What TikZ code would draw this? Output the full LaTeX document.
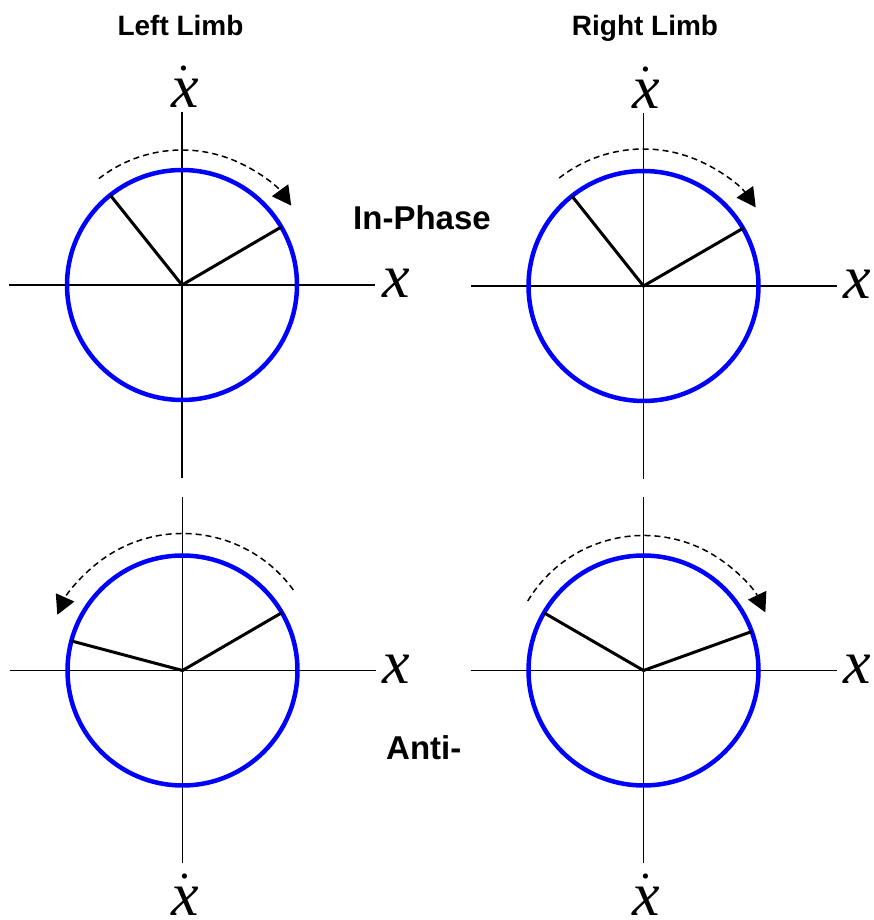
\documentclass[tikz,border=0pt]{standalone}
\usepackage{fontspec}
\setmainfont{Liberation Sans}
\newfontfamily\serifit{Liberation Serif}
\usetikzlibrary{arrows.meta}
\newcommand{\xvar}{\serifit\itshape\fontsize{62}{62}\selectfont}
\newcommand{\titlefont}{\fontsize{28}{28}\selectfont\bfseries}
\newcommand{\phasefont}{\fontsize{33}{33}\selectfont\bfseries}
\newcommand{\xdot}{\ooalign{x\cr\hidewidth\raisebox{0.6em}{\fontsize{44}{44}\selectfont.}\hidewidth\cr}}

\begin{document}
\begin{tikzpicture}[x=1pt,y=1pt,
    axisline/.style={line width=1.5pt},
    orbit/.style={draw=blue,line width=4.5pt},
    spoke/.style={line width=3pt},
    flowarc/.style={line width=1.5pt,dash pattern=on 6pt off 4pt,-{Triangle[length=19pt,width=20pt]}},
    varlbl/.style={inner sep=0pt,font=\xvar},
    titlelbl/.style={inner sep=0pt,font=\titlefont},
    phaselbl/.style={inner sep=0pt,font=\phasefont}]
  \useasboundingbox (0,0) rectangle (873,920);
  % one phase portrait per panel: centre, spokes, flow arc, height of the x-dot label
  \foreach \cx/\cy/\sa/\sb/\fa/\fb/\fr/\dy/\p in {182/635/128.6/30.3/128/36/135/177/tl,643.5/634/128.5/30.1/128/35/137/177/tr,182.5/249.5/165.1/30.2/36/156/137/-245/bl,643.5/249.5/149.9/19.8/149/25.5/135/-245/br}{
    \begin{scope}[shift={(\cx,\cy)}]
      \draw[axisline] (-173,0) -- (193,0);
      \draw[axisline] (0,-193) -- (0,173);
      \draw[orbit] (0,0) circle (115);
      \draw[spoke] (\sa:115) -- (0,0) -- (\sb:115);
      \draw[flowarc] (\fa:\fr) arc (\fa:\fb:\fr);
      \node[varlbl,anchor=base west] (\p-x) at (200,-13) {x};
      \node[varlbl,anchor=base] (\p-xd) at (3,\dy) {\xdot};
    \end{scope}
  }
  \node[titlelbl,anchor=base] (left-title) at (180.5,884.5) {Left Limb};
  \node[titlelbl,anchor=base] (right-title) at (645,884.5) {Right Limb};
  \node[phaselbl,anchor=base west] (in-phase) at (353,690) {In-Phase};
  \node[phaselbl,anchor=base west] (anti-phase) at (386,160) {Anti-};
\end{tikzpicture}
\end{document}
